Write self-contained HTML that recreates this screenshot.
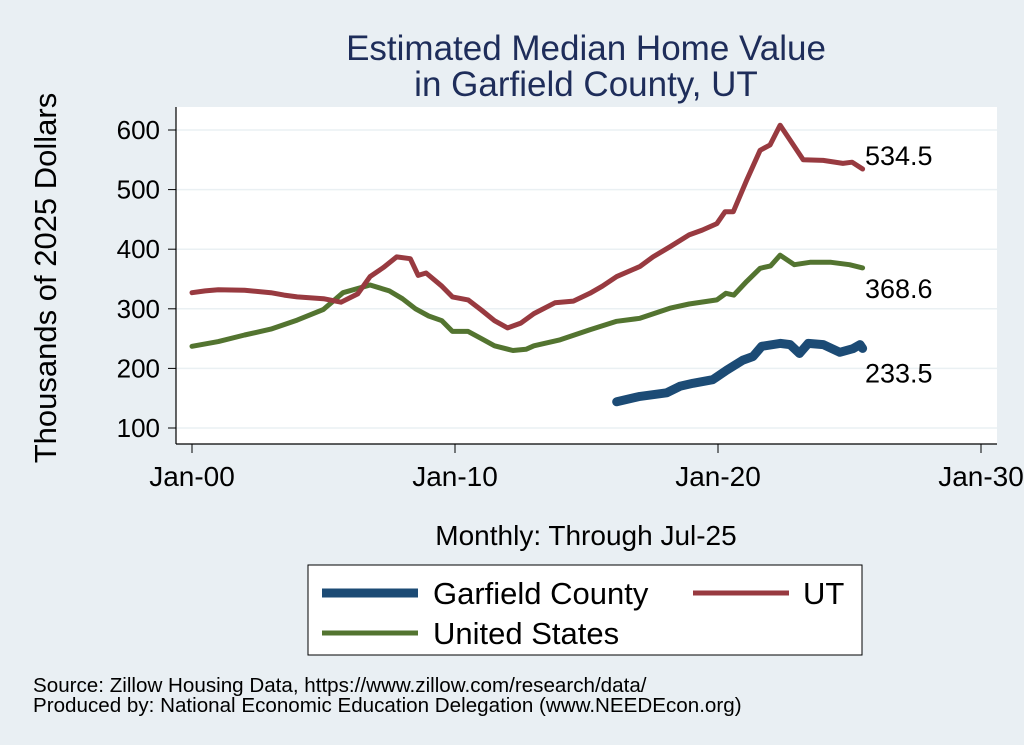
<!DOCTYPE html>
<html><head><meta charset="utf-8"><style>
html,body{margin:0;padding:0;background:#e9eff3;}
svg{display:block;font-family:"Liberation Sans",Arial,sans-serif;}
</style></head><body>
<svg id="chart" width="1024" height="745" viewBox="0 0 1024 745">
<rect x="0" y="0" width="1024" height="745" fill="#e9eff3"/>
<text x="586" y="60" font-size="35" fill="#1e2d5a" text-anchor="middle">Estimated Median Home Value</text>
<text x="586" y="96" font-size="35" fill="#1e2d5a" text-anchor="middle">in Garfield County, UT</text>
<rect x="176" y="107" width="821" height="337" fill="#ffffff"/>
<g id="grid"></g>
<g id="series"></g>
<g id="axes"></g>
<text transform="translate(56,278) rotate(-90)" font-size="31" fill="#000" text-anchor="middle">Thousands of 2025 Dollars</text>
<text x="586" y="545" font-size="28" fill="#000" text-anchor="middle">Monthly: Through Jul-25</text>
<g>
<rect x="308" y="565" width="554" height="90" fill="#fff" stroke="#000" stroke-width="1"/>
<line x1="322" y1="593" x2="418" y2="593" stroke="#1c4b75" stroke-width="9"/>
<text x="433" y="604" font-size="31">Garfield County</text>
<line x1="693" y1="593" x2="789" y2="593" stroke="#983a40" stroke-width="5"/>
<text x="803" y="604" font-size="31">UT</text>
<line x1="322" y1="633" x2="418" y2="633" stroke="#537430" stroke-width="5"/>
<text x="433" y="644" font-size="31">United States</text>
</g>
<text x="33" y="692" font-size="20.6">Source: Zillow Housing Data, https://www.zillow.com/research/data/</text>
<text x="33" y="712" font-size="20.6">Produced by: National Economic Education Delegation (www.NEEDEcon.org)</text>
</svg>
<script>
const yTicks = [100, 200, 300, 400, 500, 600];
const xTicks = [2000, 2010, 2020, 2030];
const xTickLabels = ["Jan-00", "Jan-10", "Jan-20", "Jan-30"];
const utYears = [2000,2000.5,2001,2002,2003,2003.5,2004,2005,2005.67,2006.3,2006.77,2007.3,2007.78,2008.3,2008.6,2008.9,2009.5,2009.9,2010.5,2011,2011.5,2012,2012.5,2013,2013.8,2014.5,2015.13,2015.6,2016.15,2017.03,2017.53,2018.17,2018.9,2019.4,2019.96,2020.27,2020.58,2021.09,2021.6,2021.98,2022.36,2022.74,2023.24,2024,2024.75,2025.1,2025.5];
const utValues = [327,330,332,331,327,323,320,317,311,325,354,370,387,384,356,360,338,320,315,298,280,268,276,292,310,313,326,338,354,371,387,404,424,432,443,463,463,516,566,575,608,583,550,549,544,546,534.5];
const usYears = [2000,2001,2002,2003,2004,2005,2005.74,2006.77,2007.5,2008,2008.5,2009,2009.5,2009.9,2010.5,2011,2011.5,2012.2,2012.7,2013,2014,2015.13,2016.15,2017.03,2018.17,2018.9,2019.96,2020.3,2020.6,2021.09,2021.6,2022,2022.36,2022.9,2023.5,2024.3,2025,2025.5];
const usValues = [237,245,256,266,281,299,327,340,330,317,300,288,280,262,262,250,238,230,232,238,248,265,279,284,301,308,315,326,323,346,368,372,390,374,378,378,374,368.6];
const gfYears = [2016.15,2017.03,2018.05,2018.55,2019.05,2019.8,2020.33,2020.95,2021.33,2021.66,2022.36,2022.74,2023.1,2023.43,2024,2024.63,2025.13,2025.4,2025.5];
const gfValues = [144,153,159,170,175,181,197,214,220,237,242,240,225,242,240,227,233,240,233.5];
const endLabels = ["534.5", "368.6", "233.5"];

const NS = "http://www.w3.org/2000/svg";
const X0 = 192, X1 = 981, Y600 = 130, Y100 = 428;
function xs(y){ return X0 + (y - 2000) / 30 * (X1 - X0); }
function ys(v){ return Y100 + (v - 100) / 500 * (Y600 - Y100); }
function mk(tag, attrs, parent){ const e = document.createElementNS(NS, tag); for (const k in attrs) e.setAttribute(k, attrs[k]); parent.appendChild(e); return e; }

const grid = document.getElementById('grid'), axes = document.getElementById('axes'), series = document.getElementById('series');
yTicks.forEach(v => {
  const g = mk('line', {x1:176, x2:997, y1:ys(v), y2:ys(v), stroke:'#eaf0f3', 'stroke-width':1.5}, grid);
  
  
  const t = mk('line', {x1:168, x2:176, y1:ys(v), y2:ys(v), stroke:'#000', 'stroke-width':1}, axes);
  
  
  const l = mk('text', {x:160, y:ys(v)+9, 'font-size':26, 'text-anchor':'end'}, axes);
  l.textContent = v;
  
  
});
mk('line', {x1:176, x2:176, y1:107, y2:444, stroke:'#000', 'stroke-width':1.2}, axes);
mk('line', {x1:176, x2:997, y1:444, y2:444, stroke:'#000', 'stroke-width':1.2}, axes);
xTicks.forEach((yr, i) => {
  const t = mk('line', {x1:xs(yr), x2:xs(yr), y1:444, y2:453, stroke:'#000', 'stroke-width':1}, axes);
  
  
  const l = mk('text', {x:xs(yr), y:486, 'font-size':28, 'text-anchor':'middle'}, axes);
  l.textContent = xTickLabels[i];
  
  
});
function line(years, vals, color, w, name){
  const d = years.map((y,i) => (i ? 'L' : 'M') + xs(y).toFixed(1) + ',' + ys(vals[i]).toFixed(1)).join(' ');
  const p = mk('path', {d:d, fill:'none', stroke:color, 'stroke-width':w, 'stroke-linejoin':'round', 'stroke-linecap':'round'}, series);
  
  
}
line(usYears, usValues, '#537430', 5, 'line-united-states');
line(utYears, utValues, '#983a40', 5, 'line-ut');
line(gfYears, gfValues, '#1c4b75', 9, 'line-garfield-county');
const lastUt = utValues[utValues.length-1], lastUs = usValues[usValues.length-1], lastGf = gfValues[gfValues.length-1];
[[lastUt, -4, 0], [lastUs, 30, 1], [lastGf, 34, 2]].forEach(([v, dy, i]) => {
  const t = mk('text', {x:865, y:ys(v)+dy, 'font-size':27}, series);
  t.textContent = endLabels[i];
  
  
});
</script>
</body></html>
